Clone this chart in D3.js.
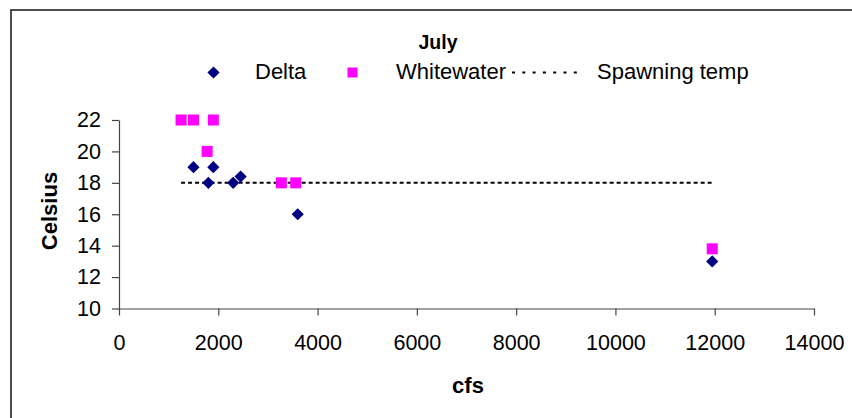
<!DOCTYPE html>
<html>
<head>
<meta charset="utf-8">
<script src="https://cdn.jsdelivr.net/npm/d3@7"></script>
<style>
  html, body { margin: 0; padding: 0; background: #fff; }
  svg { display: block; font-family: Arial, "Liberation Sans", sans-serif; }
</style>
</head>
<body>
<svg id="chart" width="852" height="418"></svg>
<script>
// ---- data ----
const chartTitle = "July";
const deltaCfs = [1500, 1900, 1800, 2300, 2450, 3600, 11950];
const deltaTemp = [19, 19, 18, 18, 18.4, 16, 13];
const whitewaterCfs = [1250, 1500, 1900, 1775, 3270, 3560, 11950];
const whitewaterTemp = [22, 22, 22, 20, 18, 18, 13.8];
const spawningCfs = [1250, 1500, 1900, 1775, 2300, 2450, 3270, 3560, 11950];
const spawningTemp = [18, 18, 18, 18, 18, 18, 18, 18, 18];
const xTicks = [0, 2000, 4000, 6000, 8000, 10000, 12000, 14000];
const yTicks = [10, 12, 14, 16, 18, 20, 22];
const seriesNames = ["Delta", "Whitewater", "Spawning temp"];
const xTitle = "cfs";
const yTitle = "Celsius";

// ---- layout ----
const svg = d3.select("#chart");
const plot = { left: 119, right: 814, top: 120, bottom: 308.5 };
const x = d3.scaleLinear().domain([0, 14000]).range([plot.left, plot.right]);
const y = d3.scaleLinear().domain([10, 22]).range([plot.bottom, plot.top]);
const navy = "#000080", magenta = "#ff00ff";

// frame
svg.append("rect").attr("x", 11).attr("y", 10).attr("width", 900).attr("height", 500)
  .attr("fill", "#fff").attr("stroke", "#222").attr("stroke-width", 1.6);

// axes
const yAxis = svg.append("g").attr("transform", `translate(${plot.left},0)`)
  .call(d3.axisLeft(y).tickValues(yTicks).tickFormat(d3.format("d")).tickSize(7).tickPadding(11).tickSizeOuter(0));
const xAxis = svg.append("g").attr("transform", `translate(0,${plot.bottom})`)
  .call(d3.axisBottom(x).tickValues(xTicks).tickFormat(d3.format("d")).tickSize(7).tickPadding(15).tickSizeOuter(0));
[xAxis, yAxis].forEach(g => {
  g.selectAll("path, line").attr("stroke", "#444").attr("stroke-width", 1.2);
  g.selectAll("text").attr("fill", "#000").attr("font-size", "21.5px")
    .attr("font-family", "Arial, 'Liberation Sans', sans-serif");
});
xAxis.selectAll("text").attr("dy", "0.9em");

// spawning temp line
const line = d3.line().x(d => x(d[0])).y(d => y(d[1]));
svg.append("path").datum(spawningCfs.map((c, i) => [c, spawningTemp[i]]))
  .attr("d", line).attr("fill", "none").attr("stroke", "#000")
  .attr("stroke-width", 2).attr("stroke-dasharray", "4,3");

// markers
const diamond = d3.symbol().type(d3.symbolDiamond2).size(95);
svg.append("g").selectAll("path").data(deltaCfs.map((c, i) => [c, deltaTemp[i]]))
  .join("path").attr("d", diamond)
  .attr("transform", d => `translate(${x(d[0])},${y(d[1])})`).attr("fill", navy);
svg.append("g").selectAll("rect").data(whitewaterCfs.map((c, i) => [c, whitewaterTemp[i]]))
  .join("rect").attr("x", d => x(d[0]) - 5.5).attr("y", d => y(d[1]) - 5.5)
  .attr("width", 11).attr("height", 11).attr("fill", magenta);

// titles
svg.append("text").attr("x", 438).attr("y", 49).attr("text-anchor", "middle")
  .attr("font-weight", "bold").attr("font-size", "19.5px").text(chartTitle);
svg.append("text").attr("x", 468).attr("y", 393).attr("text-anchor", "middle")
  .attr("font-weight", "bold").attr("font-size", "22px").text(xTitle);
svg.append("text").attr("transform", "translate(57,211) rotate(-90)").attr("text-anchor", "middle")
  .attr("font-weight", "bold").attr("font-size", "22px").text(yTitle);

// legend
const leg = svg.append("g");
leg.append("path").attr("d", diamond).attr("transform", "translate(213.5,72.5)").attr("fill", navy);
leg.append("text").attr("x", 255).attr("y", 79).attr("font-size", "22px").text(seriesNames[0]);
leg.append("rect").attr("x", 347.5).attr("y", 67.5).attr("width", 10).attr("height", 10).attr("fill", magenta);
leg.append("text").attr("x", 396).attr("y", 79).attr("font-size", "22px").text(seriesNames[1]);
leg.append("line").attr("x1", 512).attr("x2", 584).attr("y1", 72.5).attr("y2", 72.5)
  .attr("stroke", "#000").attr("stroke-width", 2).attr("stroke-dasharray", "3,7.3");
leg.append("text").attr("x", 597).attr("y", 79).attr("font-size", "22px").text(seriesNames[2]);
</script>
</body>
</html>
